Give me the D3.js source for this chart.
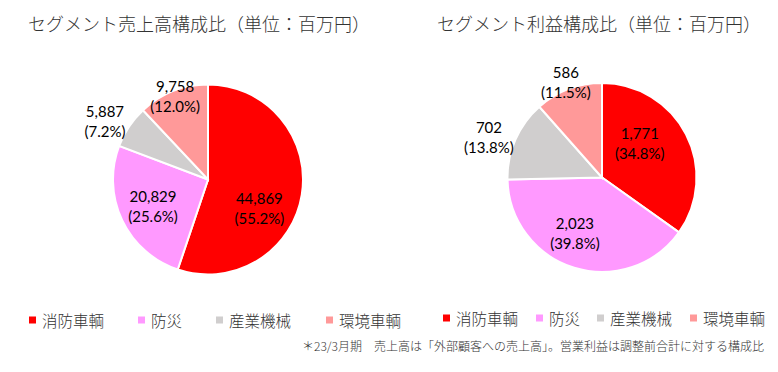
<!DOCTYPE html>
<html lang="ja">
<head>
<meta charset="utf-8">
<title>segment pies</title>
<script src="https://cdn.jsdelivr.net/npm/d3@7"></script>
<style>
  body{margin:0;background:#fff;}
  svg{display:block;}
  .jp{font-family:"Noto Sans CJK JP",sans-serif;fill:#333;font-weight:300;}
  .num{font-family:Lato,"Liberation Sans",sans-serif;font-size:15px;fill:#000;}
</style>
</head>
<body>
<div id="chart"></div>
<script>
// data
var categories = ["消防車輌", "防災", "産業機械", "環境車輌"]
var colors = ["#ff0000", "#ff99ff", "#d0cece", "#ff9999"]
var salesValues = [44869, 20829, 5887, 9758]
var profitValues = [1771, 2023, 702, 586]
var salesTitle = "セグメント売上高構成比（単位：百万円）"
var profitTitle = "セグメント利益構成比（単位：百万円）"
var footnote = "＊23/3月期　売上高は「外部顧客への売上高」。営業利益は調整前合計に対する構成比"

var w = 778, h = 372
var svg = d3.select("#chart").append("svg")
    .attr("width", w)
    .attr("height", h)

var fmt = d3.format(",")

function drawPie(opts){
    var g = svg.append("g").attr("transform", "translate(" + opts.cx + "," + opts.cy + ")")
    var total = d3.sum(opts.values)
    var pie = d3.pie().sort(null).value(function(d){ return d })
    var arcs = pie(opts.values)
    var arc = d3.arc().innerRadius(0).outerRadius(opts.r)

    g.selectAll("path")
        .data(arcs)
        .enter()
        .append("path")
        .attr("d", arc)
        .attr("fill", function(d, i){ return colors[i] })
        .attr("stroke", "#fff")
        .attr("stroke-width", 2)

    // labels, placed along a nudged mid angle
    var lab = g.selectAll("text.num")
        .data(arcs)
        .enter()
        .append("text")
        .attr("class", "num")
        .attr("text-anchor", "middle")
        .attr("transform", function(d, i){
            var a = (d.startAngle + d.endAngle) / 2 + opts.angleShift[i] * Math.PI / 180
            var rr = opts.r * opts.labelR[i]
            return "translate(" + (Math.sin(a) * rr) + "," + (-Math.cos(a) * rr) + ")"
        })
    lab.append("tspan")
        .attr("x", 0)
        .attr("y", -4)
        .text(function(d){ return fmt(d.value) })
    lab.append("tspan")
        .attr("x", 0)
        .attr("y", 16)
        .text(function(d){ return "(" + (d.value / total * 100).toFixed(1) + "%)" })

    svg.append("text")
        .attr("class", "jp")
        .attr("x", opts.titleX)
        .attr("y", 31)
        .attr("font-size", "18px")
        .text(opts.title)

    // legend
    var lg = svg.selectAll(null)
        .data(categories)
        .enter()
        .append("g")
        .attr("transform", function(d, i){ return "translate(" + opts.legendX[i] + "," + opts.legendY + ")" })
    lg.append("rect")
        .attr("x", -13)
        .attr("y", -3.5)
        .attr("width", 7)
        .attr("height", 7)
        .attr("fill", function(d, i){ return colors[i] })
    lg.append("text")
        .attr("class", "jp")
        .attr("font-size", "15.5px")
        .attr("dominant-baseline", "central")
        .text(function(d){ return d })
}

drawPie({
    values: salesValues, cx: 208, cy: 179.5, r: 95,
    labelR: [0.62, 0.64, 1.25, 0.94],
    angleShift: [20, 0, -4, 0],
    title: salesTitle, titleX: 28,
    legendX: [42, 151, 229, 339], legendY: 320
})
drawPie({
    values: profitValues, cx: 602, cy: 177.5, r: 94.5,
    labelR: [0.54, 0.65, 1.27, 1.08],
    angleShift: [-15, 9, -4, 0],
    title: profitTitle, titleX: 437,
    legendX: [456, 549, 610, 703], legendY: 318
})

svg.append("text")
    .attr("class", "jp")
    .attr("x", 302)
    .attr("y", 351)
    .attr("font-size", "12px")
    .text(footnote)
</script>
</body>
</html>
